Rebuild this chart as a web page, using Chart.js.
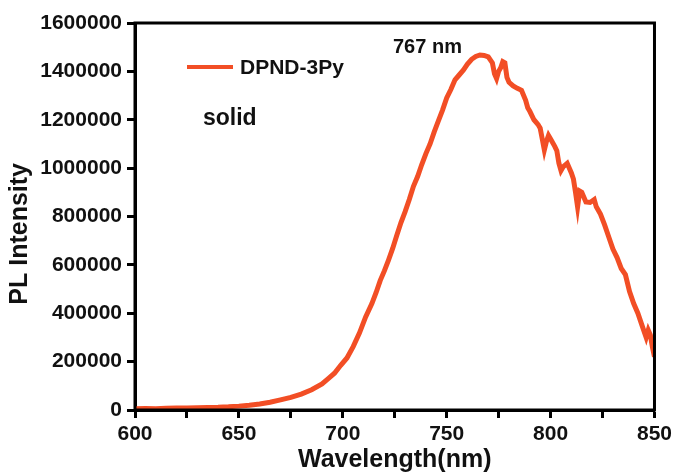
<!DOCTYPE html>
<html>
<head>
<meta charset="utf-8">
<script src="https://cdn.jsdelivr.net/npm/chart.js@4"></script>
<style>
  body { margin: 0; background: #fff; }
  #wrap { width: 676px; height: 475px; }
</style>
</head>
<body>
<div id="wrap"><canvas id="myChart"></canvas></div>
<script>
let wavelength = [600,605,610,615,620,625,630,635,640,645,650,655,660,665,670,675,680,685,690,693,696,699,702,705,708,711,714,716,718,720,722,724,726,728,730,732,734,736,738,740,742,744,746,748,750,752,754,756,758,760,762,764,766,768,770,772,773,774,775,776,777,778,779,780,782,784,786,788,789,790,792,794,795,796,797,798,799,800,802,803,804,805,806,808,810,811,812,813,814,815,817,819,821,822,824,826,828,830,832,834,836,838,840,842,844,846,847,848,849,850];
let intensity = [5000,6000,5000,7000,8000,8000,9000,10000,11000,13000,16000,20000,25000,32000,42000,52000,66000,84000,108000,130000,152000,185000,215000,262000,318000,385000,440000,485000,535000,575000,620000,668000,722000,775000,820000,870000,925000,965000,1015000,1060000,1100000,1150000,1195000,1240000,1290000,1325000,1365000,1385000,1405000,1430000,1450000,1462000,1468000,1466000,1460000,1435000,1390000,1370000,1400000,1415000,1440000,1435000,1375000,1355000,1340000,1330000,1322000,1280000,1250000,1235000,1200000,1180000,1165000,1120000,1075000,1110000,1135000,1120000,1090000,1072000,1020000,990000,1005000,1020000,980000,955000,900000,840000,905000,900000,860000,858000,870000,840000,810000,765000,715000,665000,630000,585000,560000,490000,440000,400000,350000,300000,330000,310000,260000,220000];
let seriesName = 'DPND-3Py';
let peakLabel = '767 nm';
let stateLabel = 'solid';
let lineColor = '#F24E25';

let points = wavelength.map((w, i) => ({x: w, y: intensity[i]}));

// frame round the plot, legend and notes
let extras = {
  id: 'extras',
  afterDraw(chart) {
    let c = chart.ctx, a = chart.chartArea;
    c.save();
    c.strokeStyle = '#000';
    c.lineWidth = 3;
    c.strokeRect(a.left, a.top, a.right - a.left, a.bottom - a.top);

    c.strokeStyle = lineColor;
    c.lineWidth = 4;
    c.beginPath();
    c.moveTo(a.left + 52, a.top + 44);
    c.lineTo(a.left + 98, a.top + 44);
    c.stroke();

    c.fillStyle = '#111';
    c.textBaseline = 'middle';
    c.font = 'bold 21px "Liberation Sans", Arial, sans-serif';
    c.fillText(seriesName, a.left + 105, a.top + 45);
    c.font = 'bold 23px "Liberation Sans", Arial, sans-serif';
    c.fillText(stateLabel, a.left + 68, a.top + 96);
    c.font = 'bold 20px "Liberation Sans", Arial, sans-serif';
    c.fillText(peakLabel, a.left + 258, a.top + 24);
    c.restore();
  }
};

let ctx = document.getElementById('myChart').getContext('2d');
let myChart = new Chart(ctx, {
  type: 'line',
  data: {
    datasets: [{
      label: seriesName,
      data: points,
      borderColor: lineColor,
      backgroundColor: lineColor,
      borderWidth: 5,
      pointRadius: 0,
      tension: 0
    }]
  },
  options: {
    responsive: true,
    maintainAspectRatio: false,
    animation: false,
    layout: { padding: { top: 23, right: 19, left: 0, bottom: 0 } },
    plugins: { legend: { display: false }, tooltip: { enabled: false } },
    scales: {
      x: {
        type: 'linear',
        min: 600,
        max: 850,
        afterFit: s => { s.height = 65; },
        grid: { drawOnChartArea: false, tickLength: 8, tickWidth: 3, tickColor: '#000' },
        border: { display: true, width: 3, color: '#000' },
        ticks: {
          stepSize: 25,
          padding: 4,
          color: '#111',
          font: { family: '"Liberation Sans", Arial', size: 21, weight: 'bold' },
          callback: v => (v % 50 === 0 ? v : '')
        },
        title: {
          display: true,
          text: 'Wavelength(nm)',
          color: '#111',
          padding: { top: 0, bottom: 0 },
          font: { family: '"Liberation Sans", Arial', size: 25, weight: 'bold' }
        }
      },
      y: {
        min: 0,
        max: 1600000,
        afterFit: s => { s.width = 135; },
        grid: { drawOnChartArea: false, tickLength: 8, tickWidth: 3, tickColor: '#000' },
        border: { display: true, width: 3, color: '#000' },
        ticks: {
          stepSize: 100000,
          padding: 5,
          color: '#111',
          font: { family: '"Liberation Sans", Arial', size: 21, weight: 'bold' },
          callback: v => (v % 200000 === 0 ? String(v) : '')
        },
        title: {
          display: true,
          text: 'PL Intensity     ',
          color: '#111',
          padding: { top: 5, bottom: 0 },
          font: { family: '"Liberation Sans", Arial', size: 25, weight: 'bold' }
        }
      }
    }
  },
  plugins: [extras]
});
</script>
</body>
</html>
